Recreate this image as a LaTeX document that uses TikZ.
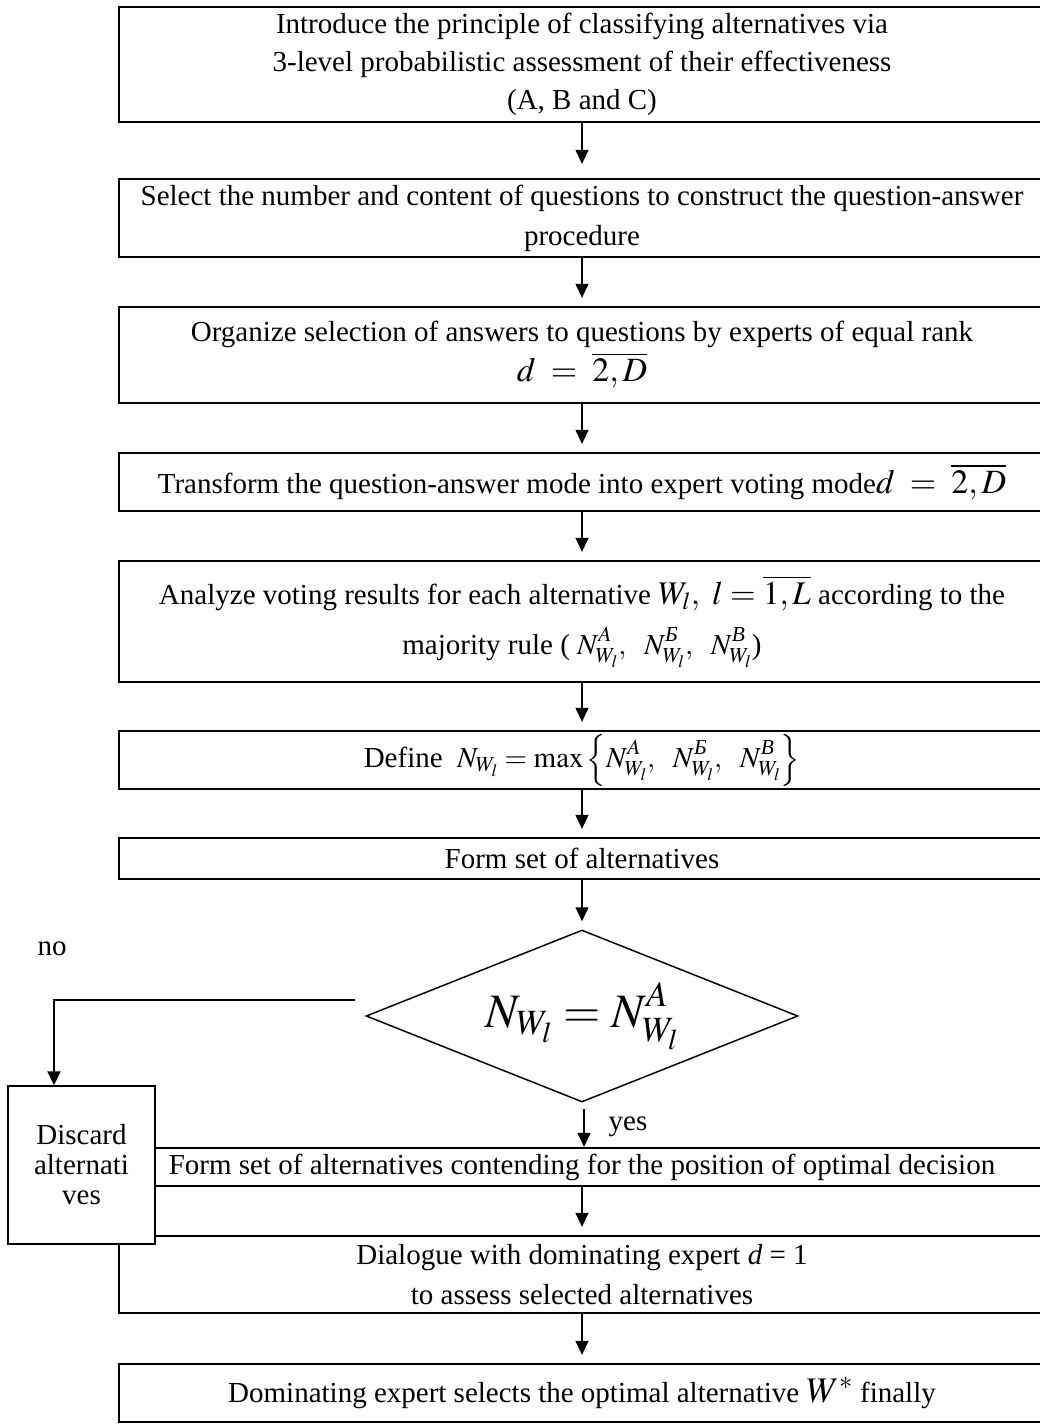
\documentclass[tikz,border=0pt]{standalone}
\usepackage{amsmath}
\usepackage{mathptmx}
\usepackage{fontspec}
\setmainfont{Liberation Serif}
\usetikzlibrary{arrows.meta,shapes.geometric}

\newcommand\fsmain{\fontsize{29}{38}\selectfont}
\newcommand\cyrit[1]{\text{\itshape #1}}
% N with a raised superscript and a lowered W_l subscript
\newcommand\NW[1]{N^{\rule[-3pt]{0pt}{0pt}#1}_{\rule{0pt}{14pt}W_l}}
\newcommand\NWbig[1]{N^{\rule[-5pt]{0pt}{0pt}#1}_{\rule{0pt}{23pt}W_l}}

\begin{document}
\begin{tikzpicture}[x=1pt,y=-1pt,
  box/.style={draw, line width=2.3pt, minimum width=926pt, inner sep=0pt,
              align=center, font=\fsmain},
  sidebox/.style={draw, fill=white, line width=1.5pt, minimum width=147pt,
              minimum height=158pt, inner sep=0pt, align=center,
              font={\fontsize{29}{30}\selectfont}},
  decision/.style={draw, diamond, aspect=2.5, line width=1.5pt,
              minimum width=432pt, minimum height=172pt, inner sep=0pt},
  arr/.style={-{Triangle[width=13pt,length=14pt]}, line width=1.3pt,
              shorten >=8pt},
  lbl/.style={font=\fsmain, inner sep=0pt}]

\useasboundingbox (0,0) rectangle (1040,1426);

% main sequence of steps
\node[box, minimum height=115pt] (b1) at (582,64.5)
  {Introduce the principle of classifying alternatives via\\
   3-level probabilistic assessment of their effectiveness\\
   (A, B and C)};

\node[box, minimum height=78pt, font={\fontsize{29}{40}\selectfont}] (b2) at (582,218)
  {Select the number and content of questions to construct the question-answer\\
   procedure};

\node[box, minimum height=96pt] (b3) at (582,355)
  {Organize selection of answers to questions by experts of equal rank\\[2pt]
   {\fontsize{34}{40}\selectfont $d\;=\;\overline{2,D}$}};

\node[box, minimum height=58pt] (b4) at (582,482)
  {Transform the question-answer mode into expert voting mode{\fontsize{34}{40}\selectfont $d\;=\;\overline{2,D}$}};

\node[box, minimum height=121pt] (b5) at (582,621.5)
  {Analyze voting results for each alternative {\fontsize{33}{40}\selectfont $W_{l},\ l=\overline{1,L}$} according to the\\[12pt]
   majority rule ( $\NW{A},\ \ \NW{\cyrit{Б}},\ \ \NW{\cyrit{В}}$)};

\node[box, minimum height=58pt] (b6) at (582,760)
  {Define \ $N_{W_l}=\max\left\{\NW{A},\ \ \NW{\cyrit{Б}},\ \ \NW{\cyrit{В}}\right\}$};

\node[box, minimum height=41pt] (b7) at (582,858.5)
  {Form set of alternatives};

\node[decision] (dia) at (582,1016)
  {\fontsize{48}{48}\selectfont $N_{\rule{0pt}{23pt}W_l}=\NWbig{A}$};

\node[box, minimum height=38pt] (b9) at (582,1167)
  {Form set of alternatives contending for the position of optimal decision};

\node[box, minimum height=77pt, font={\fontsize{29}{40}\selectfont}] (b10) at (582,1274.5)
  {Dialogue with dominating expert \textit{d} = 1\\
   to assess selected alternatives};

\node[box, minimum height=58pt] (b11) at (582,1393)
  {Dominating expert selects the optimal alternative {\fontsize{36}{40}\selectfont $W^{*}$} finally};

% side branch, drawn over the left ends of the lower boxes
\node[sidebox] (disc) at (81.5,1165) {Discard\\ alternati\\ ves};

% connectors
\draw[arr, shorten >=14pt] (b1) -- (b2);
\draw[arr] (b2) -- (b3);
\draw[arr] (b3) -- (b4);
\draw[arr] (b4) -- (b5);
\draw[arr] (b5) -- (b6);
\draw[arr] (b6) -- (b7);
\draw[arr] (b7) -- (dia);
\draw[arr, shorten <=6pt, shorten >=0pt] ([xshift=2pt]dia.south) -- ([xshift=2pt]b9.north);
\draw[arr] (b9) -- (b10);
\draw[arr] (b10) -- (b11);

\coordinate (nostart) at (355,1000);
\coordinate (nocorner) at (54,1000);
\draw[arr, line width=2pt, shorten >=0pt] (nostart) -- (nocorner) -- (nocorner |- disc.north);

% branch labels
\node[lbl] (no) at (52,949) {no};
\node[lbl] (yes) at (628,1127) {yes};
\end{tikzpicture}
\end{document}
